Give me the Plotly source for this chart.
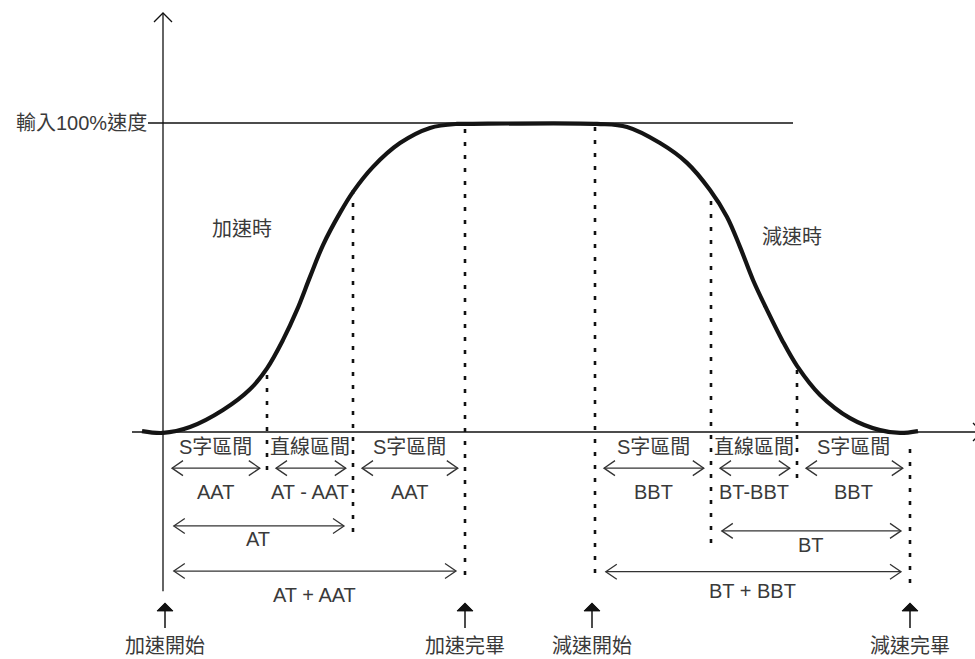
import plotly.graph_objects as go

# ---- S-curve speed profile (time in arbitrary units, speed in % of command) ----
curve_t = [-0.21, 0.00, 0.27, 0.60, 0.87, 1.04, 1.20, 1.34, 1.47, 1.60, 1.77, 1.90,
           2.10, 2.37, 2.67, 2.94, 3.02,
           4.34, 4.64, 4.97, 5.24, 5.47, 5.64, 5.77, 5.90, 6.04, 6.19, 6.34,
           6.57, 6.87, 7.17, 7.37, 7.55]
curve_v = [0.3, -0.3, 1.6, 7.1, 13.8, 20.6, 29.8, 39.5, 50.2, 60.5, 70.9, 77.7,
           85.8, 93.5, 98.4, 99.7, 99.7,
           99.7, 98.7, 93.5, 87.1, 78.3, 69.6, 59.9, 49.2, 39.5, 29.8, 21.4,
           12.0, 4.5, 0.6, -0.3, 0.3]

# Section boundaries: start, end of S, end of linear, end
accel_marks = [0.00, 1.04, 1.90, 3.02]
decel_marks = [4.32, 5.48, 6.34, 7.47]

# Dotted guides (time, top speed, bottom speed)
guide_t = [1.04, 1.90, 3.02, 4.32, 5.48, 6.34, 7.47]
guide_top = [21.0, 78.3, 100.0, 100.0, 76.0, 21.0, -3.6]
guide_bottom = [-12.3, -32.4, -46.3, -45.6, -35.9, -14.9, -48.9]

section_names = ["S字區間", "直線區間", "S字區間"]
accel_durations = ["AAT", "AT - AAT", "AAT"]
decel_durations = ["BBT", "BT-BBT", "BBT"]

# Longer spans: label, start, end, arrow level, label level
span_labels = ["AT", "AT + AAT", "BT", "BT + BBT"]
span_start = [accel_marks[0], accel_marks[0], decel_marks[1], decel_marks[0]]
span_end = [accel_marks[2], accel_marks[3], decel_marks[3], decel_marks[3]]
span_level = [-30.4, -45.0, -32.0, -45.2]
span_text_level = [-34.6, -52.8, -36.6, -51.5]

event_labels = ["加速開始", "加速完畢", "減速開始", "減速完畢"]
event_t = [0.02, 3.02, 4.29, 7.47]

FULL_SPEED = 100.0
ref_label = "輸入100%速度"
phase_labels = ["加速時", "減速時"]
phase_t = [0.79, 6.29]
phase_v = [65.7, 63.1]

# ---- layout geometry ----
W, H = 975, 659
X_RANGE = [-1.63, 8.12]
Y_RANGE = [-73.46, 139.8]
PX_T = (X_RANGE[1] - X_RANGE[0]) / W   # time units per pixel
PX_V = (Y_RANGE[1] - Y_RANGE[0]) / H   # speed units per pixel

FONT = "Liberation Sans, Noto Sans CJK TC, Noto Sans CJK SC, sans-serif"
TEXT_COLOR = "#3a3a3a"
PAD = 0.09
ROW_ARROW = -11.7
ROW_SECTION = -4.9
ROW_DURATION = -19.4


def seg_xy(segments):
    xs, ys = [], []
    for seg in segments:
        for x, y in seg:
            xs.append(x)
            ys.append(y)
        xs.append(None)
        ys.append(None)
    return xs, ys


def double_arrow(x0, x1, y, head=11, half=7.5):
    dx, dy = head * PX_T, half * PX_V
    return [
        [(x0, y), (x1, y)],
        [(x0 + dx, y + dy), (x0, y), (x0 + dx, y - dy)],
        [(x1 - dx, y + dy), (x1, y), (x1 - dx, y - dy)],
    ]


fig = go.Figure()

# axes with open arrow heads, plus the full-speed reference line
ax_segments = [
    [(0.0, -51.5), (0.0, 135.6)],
    [(-9 * PX_T, 135.6 - 9 * PX_V), (0.0, 135.6), (9 * PX_T, 135.6 - 9 * PX_V)],
    [(-0.31, 0.0), (8.19, 0.0)],
    [(8.19 - 9 * PX_T, 9 * PX_V), (8.19, 0.0), (8.19 - 9 * PX_T, -9 * PX_V)],
    [(-0.15, FULL_SPEED), (6.30, FULL_SPEED)],
]
xs, ys = seg_xy(ax_segments)
fig.add_trace(go.Scatter(x=xs, y=ys, mode="lines",
                         line=dict(color="#111111", width=1.3), hoverinfo="skip"))

# dotted guides
xs, ys = seg_xy([[(t, b), (t, tp)] for t, tp, b in zip(guide_t, guide_top, guide_bottom)])
fig.add_trace(go.Scatter(x=xs, y=ys, mode="lines",
                         line=dict(color="#111111", width=2.6, dash="4px,9px"),
                         hoverinfo="skip"))

# speed profile
fig.add_trace(go.Scatter(x=curve_t, y=curve_v, mode="lines",
                         line=dict(color="#141414", width=4.2, shape="spline", smoothing=1.0),
                         hoverinfo="skip"))

# dimension arrows
arrow_segs = []
for marks in (accel_marks, decel_marks):
    for i in range(3):
        arrow_segs += double_arrow(marks[i] + PAD, marks[i + 1] - PAD * 0.8, ROW_ARROW)
for s, e, lv in zip(span_start, span_end, span_level):
    arrow_segs += double_arrow(s + PAD * 1.2, e - PAD, lv)
xs, ys = seg_xy(arrow_segs)
fig.add_trace(go.Scatter(x=xs, y=ys, mode="lines",
                         line=dict(color="#333333", width=1.3), hoverinfo="skip"))

# event arrows (filled head + shaft)
tip_v, base_v, tail_v = -55.3, -57.9, -63.4
xs, ys = seg_xy([[(t, base_v), (t, tail_v)] for t in event_t])
fig.add_trace(go.Scatter(x=xs, y=ys, mode="lines",
                         line=dict(color="#111111", width=1.5), hoverinfo="skip"))
for t in event_t:
    fig.add_trace(go.Scatter(
        x=[t - 8 * PX_T, t, t + 8 * PX_T, t - 8 * PX_T],
        y=[base_v, tip_v, base_v, base_v],
        mode="lines", fill="toself", fillcolor="#111111",
        line=dict(color="#111111", width=1), hoverinfo="skip"))


# ---- text ----
def label(x, y, text, xanchor="center", yanchor="middle", size=20):
    fig.add_annotation(x=x, y=y, text=text, showarrow=False, xanchor=xanchor,
                       yanchor=yanchor, borderpad=0,
                       font=dict(family=FONT, size=size, color=TEXT_COLOR))


label(-0.15, FULL_SPEED, ref_label, xanchor="right")
for t, v, txt in zip(phase_t, phase_v, phase_labels):
    label(t, v, txt)
for marks, durs in ((accel_marks, accel_durations), (decel_marks, decel_durations)):
    for i in range(3):
        mid = (marks[i] + marks[i + 1]) / 2
        label(mid, ROW_SECTION, section_names[i])
        label(mid, ROW_DURATION, durs[i])
for txt, s, e, lv in zip(span_labels, span_start, span_end, span_text_level):
    label((s + e) / 2, lv, txt)
for t, txt in zip(event_t, event_labels):
    label(t, Y_RANGE[0] + 1 * PX_V, txt, yanchor="bottom")

fig.update_layout(
    width=W, height=H, autosize=False,
    margin=dict(l=0, r=0, t=0, b=0),
    paper_bgcolor="white", plot_bgcolor="white",
    showlegend=False,
    xaxis=dict(range=X_RANGE, visible=False, fixedrange=True),
    yaxis=dict(range=Y_RANGE, visible=False, fixedrange=True),
)

fig.write_html("out.html", config={"displayModeBar": False})
